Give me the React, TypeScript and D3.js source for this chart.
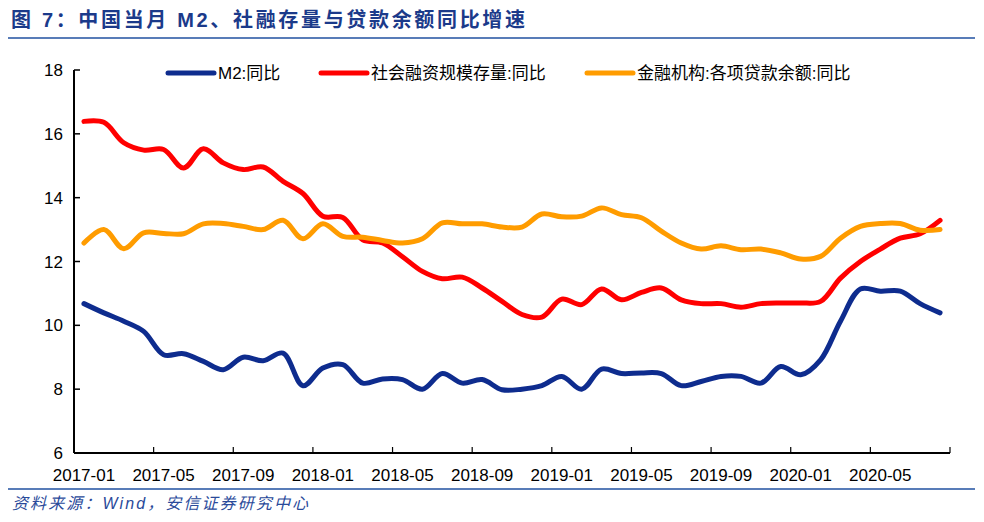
import { scaleBand, scaleLinear, line, curveCatmullRom } from "d3";

const months = [
  "2017-01", "2017-02", "2017-03", "2017-04", "2017-05", "2017-06", "2017-07", "2017-08", "2017-09", "2017-10", "2017-11", "2017-12",
  "2018-01", "2018-02", "2018-03", "2018-04", "2018-05", "2018-06", "2018-07", "2018-08", "2018-09", "2018-10", "2018-11", "2018-12",
  "2019-01", "2019-02", "2019-03", "2019-04", "2019-05", "2019-06", "2019-07", "2019-08", "2019-09", "2019-10", "2019-11", "2019-12",
  "2020-01", "2020-02", "2020-03", "2020-04", "2020-05", "2020-06", "2020-07", "2020-08"
];

// M2:同比
const m2 = [
  10.68, 10.39, 10.13, 9.81, 9.08, 9.11, 8.87, 8.61, 9.0, 8.89, 9.13, 8.11,
  8.66, 8.77, 8.19, 8.32, 8.3, 8.0, 8.49, 8.19, 8.3, 7.98, 8.0, 8.11,
  8.4, 8.0, 8.63, 8.49, 8.51, 8.49, 8.11, 8.24, 8.4, 8.4, 8.19, 8.71,
  8.45, 8.92, 10.13, 11.14, 11.07, 11.07, 10.68, 10.39
];

// 社会融资规模存量:同比
const afre = [
  16.39, 16.36, 15.72, 15.49, 15.51, 14.93, 15.53, 15.09, 14.88, 14.96, 14.51, 14.13,
  13.42, 13.38, 12.68, 12.58, 12.15, 11.69, 11.46, 11.51, 11.17, 10.75, 10.34, 10.26,
  10.82, 10.65, 11.14, 10.8, 11.03, 11.17, 10.8, 10.68, 10.68, 10.57, 10.68, 10.7,
  10.7, 10.75, 11.48, 12.0, 12.39, 12.73, 12.87, 13.29
];

// 金融机构:各项贷款余额:同比
const loans = [
  12.58, 13.0, 12.4, 12.9, 12.88, 12.87, 13.18, 13.19, 13.1, 13.0, 13.29, 12.71,
  13.18, 12.79, 12.76, 12.66, 12.58, 12.71, 13.21, 13.18, 13.18, 13.08, 13.08, 13.49,
  13.4, 13.42, 13.68, 13.47, 13.37, 12.95, 12.58, 12.39, 12.49, 12.37, 12.39, 12.27,
  12.08, 12.16, 12.73, 13.1, 13.19, 13.19, 12.98, 13.0
];

const yTicks = [6, 8, 10, 12, 14, 16, 18];
const xTickLabels = ["2017-01", "2017-05", "2017-09", "2018-01", "2018-05", "2018-09", "2019-01", "2019-05", "2019-09", "2020-01", "2020-05"];

const series = [
  { name: "M2:同比", values: m2, color: "#0e2c8e" },
  { name: "社会融资规模存量:同比", values: afre, color: "#ff0000" },
  { name: "金融机构:各项贷款余额:同比", values: loans, color: "#ff9c00" }
];

const legendX = [168, 321, 587];

const font = "'Liberation Sans', Arial, 'Noto Sans CJK SC', sans-serif";

export default function App() {
  const width = 984;
  const height = 522;
  const plot = { left: 74, right: 950, top: 70, bottom: 453 };

  const x = scaleBand<string>().domain(months).range([plot.left, plot.right]).padding(0);
  const bw = x.bandwidth();
  const y = scaleLinear().domain([6, 18]).range([plot.bottom, plot.top]);

  const tickXs = [...xTickLabels.map((m) => x(m) ?? 0), plot.right];

  return (
    <svg
      width={width}
      height={height}
      viewBox={`0 0 ${width} ${height}`}
      style={{ position: "fixed", left: 0, top: 0, background: "#fff" }}
    >
      <rect x={0} y={0} width={width} height={height} fill="#fff" />

      <text
        x={11}
        y={27}
        fontSize={20}
        fontWeight="bold"
        fill="#1b3a8a"
        fontFamily={font}
        textLength={514}
        lengthAdjust="spacing"
      >
        图 7：中国当月 M2、社融存量与贷款余额同比增速
      </text>
      <line x1={8} x2={975} y1={38} y2={38} stroke="#2150a0" strokeWidth={1.5} />

      {/* y axis */}
      <line x1={plot.left} x2={plot.left} y1={plot.top} y2={plot.bottom} stroke="#000" strokeWidth={2} />
      {yTicks.map((t) => (
        <g key={t}>
          <line x1={plot.left} x2={plot.left + 6} y1={y(t)} y2={y(t)} stroke="#000" strokeWidth={1.5} />
          <text x={63} y={y(t) + 6} textAnchor="end" fontSize={17} fontFamily={font} fill="#000">
            {t}
          </text>
        </g>
      ))}

      {/* x axis */}
      <line x1={plot.left} x2={plot.right} y1={plot.bottom} y2={plot.bottom} stroke="#000" strokeWidth={2} />
      {tickXs.map((tx, i) => (
        <line key={i} x1={tx} x2={tx} y1={plot.bottom} y2={plot.bottom - 6} stroke="#000" strokeWidth={1.2} />
      ))}
      {xTickLabels.map((m) => (
        <text
          key={m}
          x={(x(m) ?? 0) + bw / 2}
          y={481}
          textAnchor="middle"
          fontSize={17}
          fontFamily={font}
          fill="#000"
        >
          {m}
        </text>
      ))}

      {series.map((s) => {
        const path = line<number>()
          .x((_, i) => (x(months[i]) ?? 0) + bw / 2)
          .y((v) => y(v))
          .curve(curveCatmullRom.alpha(0.5))(s.values);
        return (
          <path
            key={s.name}
            d={path ?? ""}
            fill="none"
            stroke={s.color}
            strokeWidth={5}
            strokeLinecap="round"
            strokeLinejoin="round"
          />
        );
      })}

      {/* legend */}
      {series.map((s, i) => (
        <g key={s.name}>
          <line
            x1={legendX[i]}
            x2={legendX[i] + 46}
            y1={73}
            y2={73}
            stroke={s.color}
            strokeWidth={5}
            strokeLinecap="round"
          />
          <text x={legendX[i] + 50} y={79} fontSize={17} fontFamily={font} fill="#000">
            {s.name}
          </text>
        </g>
      ))}

      <line x1={8} x2={975} y1={489} y2={489} stroke="#2150a0" strokeWidth={1.5} />
      <text
        x={12}
        y={509}
        fontSize={16}
        fontStyle="italic"
        fill="#2a4a9a"
        fontFamily={font}
        textLength={296}
        lengthAdjust="spacing"
      >
        资料来源：Wind，安信证券研究中心
      </text>
    </svg>
  );
}
